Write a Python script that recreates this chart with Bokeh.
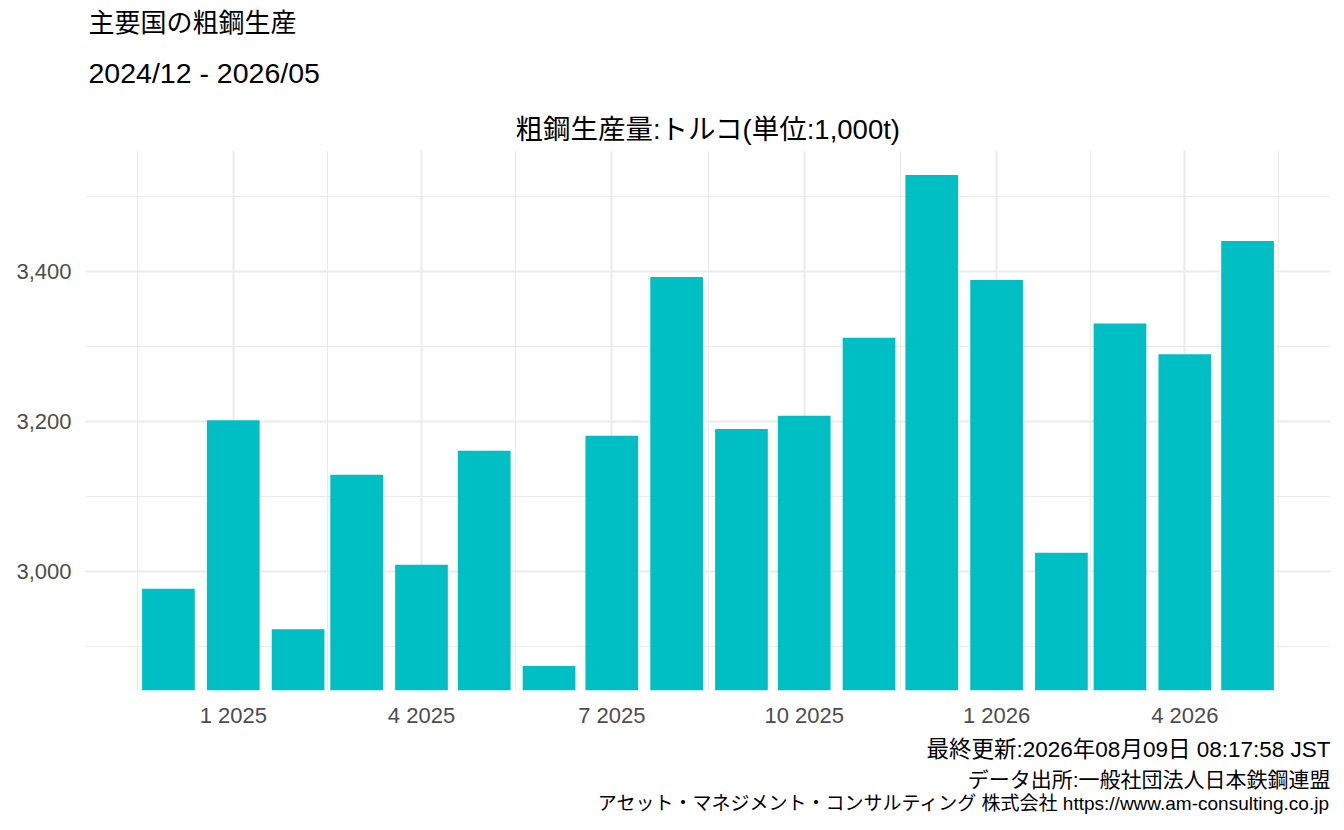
import numpy as np
from bokeh.plotting import figure
from bokeh.models import Title, FixedTicker, Range1d, NumeralTickFormatter
from bokeh.embed import file_html
from bokeh.resources import INLINE

# ---- data ----
months = ["2024-12", "2025-01", "2025-02", "2025-03", "2025-04", "2025-05",
          "2025-06", "2025-07", "2025-08", "2025-09", "2025-10", "2025-11",
          "2025-12", "2026-01", "2026-02", "2026-03", "2026-04", "2026-05"]
production = [2977, 3202, 2923, 3129, 3009, 3161,
              2874, 3181, 3393, 3190, 3208, 3312,
              3529, 3389, 3025, 3331, 3290, 3441]
x_tick_dates = ["2025-01-01", "2025-04-01", "2025-07-01", "2025-10-01", "2026-01-01", "2026-04-01"]
x_tick_labels = ["1 2025", "4 2025", "7 2025", "10 2025", "1 2026", "4 2026"]
x_minor_dates = ["2024-11-16", "2025-02-15", "2025-05-16", "2025-08-16",
                 "2025-11-16", "2026-02-15", "2026-05-16"]
y_ticks = [3000, 3200, 3400]
y_minor_ticks = [2900, 3100, 3300, 3500]

title_text = "主要国の粗鋼生産"
subtitle_text = "2024/12 - 2026/05"
panel_title = "粗鋼生産量:トルコ(単位:1,000t)"
captions = ["最終更新:2026年08月09日 08:17:58 JST",
            "データ出所:一般社団法人日本鉄鋼連盟",
            "アセット・マネジメント・コンサルティング 株式会社 https://www.am-consulting.co.jp"]

# ---- helpers ----
DAY_MS = 86400000.0


def to_ms(s):
    return float(np.datetime64(s, "ms").astype("int64"))


x_ms = [to_ms(m + "-01") for m in months]
bar_width = 25.2 * DAY_MS
x_lo = min(x_ms) - bar_width / 2
x_hi = max(x_ms) + bar_width / 2
x_pad = (x_hi - x_lo) * 0.05
y_lo, y_hi = min(production), max(production)
y_pad = (y_hi - y_lo) * 0.05

W, H = 1336, 822
BL, BR, BT, BB = 85, 6, 150, 132
FONT = "Liberation Sans, Noto Sans CJK JP"

p = figure(width=W, height=H, output_backend="svg", toolbar_location=None,
           title=None,
           x_range=Range1d(x_lo - x_pad, x_hi + x_pad),
           y_range=Range1d(y_lo - y_pad, y_hi + y_pad),
           min_border_left=BL, min_border_right=BR,
           min_border_top=BT, min_border_bottom=BB)
p.outline_line_color = None
p.background_fill_color = "white"
p.border_fill_color = "white"

p.vbar(x=x_ms, top=production, bottom=0, width=bar_width,
       fill_color="#00BFC4", line_color=None)

xt = FixedTicker(ticks=[to_ms(d) for d in x_tick_dates],
                 minor_ticks=[to_ms(d) for d in x_minor_dates])
yt = FixedTicker(ticks=y_ticks, minor_ticks=y_minor_ticks)
p.xaxis.ticker = xt
p.yaxis.ticker = yt
p.xgrid.ticker = xt
p.ygrid.ticker = yt
p.xaxis.major_label_overrides = {to_ms(d): lab for d, lab in zip(x_tick_dates, x_tick_labels)}
p.yaxis.formatter = NumeralTickFormatter(format="0,0")

for ax in (p.xaxis[0], p.yaxis[0]):
    ax.axis_line_color = None
    ax.major_tick_line_color = None
    ax.minor_tick_line_color = None
    ax.major_tick_in = 0
    ax.major_tick_out = 0
    ax.minor_tick_in = 0
    ax.minor_tick_out = 0
    ax.major_label_text_font = FONT
    ax.major_label_text_font_size = "22px"
    ax.major_label_text_color = "#4D4D4D"
p.xaxis.major_label_standoff = 12
p.yaxis.major_label_standoff = 14

for g in (p.xgrid[0], p.ygrid[0]):
    g.grid_line_color = "#EBEBEB"
    g.grid_line_width = 2
    g.minor_grid_line_color = "#EBEBEB"
    g.minor_grid_line_width = 1


def make_title(txt, size, align, offset, standoff):
    return Title(text=txt, text_font=FONT, text_font_size=f"{size}px",
                 text_font_style="normal", text_color="#000000",
                 align=align, offset=offset, standoff=standoff)


# above: stacked from the frame outward
p.add_layout(make_title(panel_title, 27.5, "center", 0, 12), "above")
p.add_layout(make_title(subtitle_text, 28.5, "left", 3, 33), "above")
p.add_layout(make_title(title_text, 26, "left", 3, 1), "above")
# below: after the x axis, stacked downward
caption_sizes = [22.5, 21, 19]
caption_standoffs = [8, 0, 1]
for c, s, so in zip(captions, caption_sizes, caption_standoffs):
    p.add_layout(make_title(c, s, "right", 0, so), "below")

open("out.html", "w").write(file_html(p, INLINE))
